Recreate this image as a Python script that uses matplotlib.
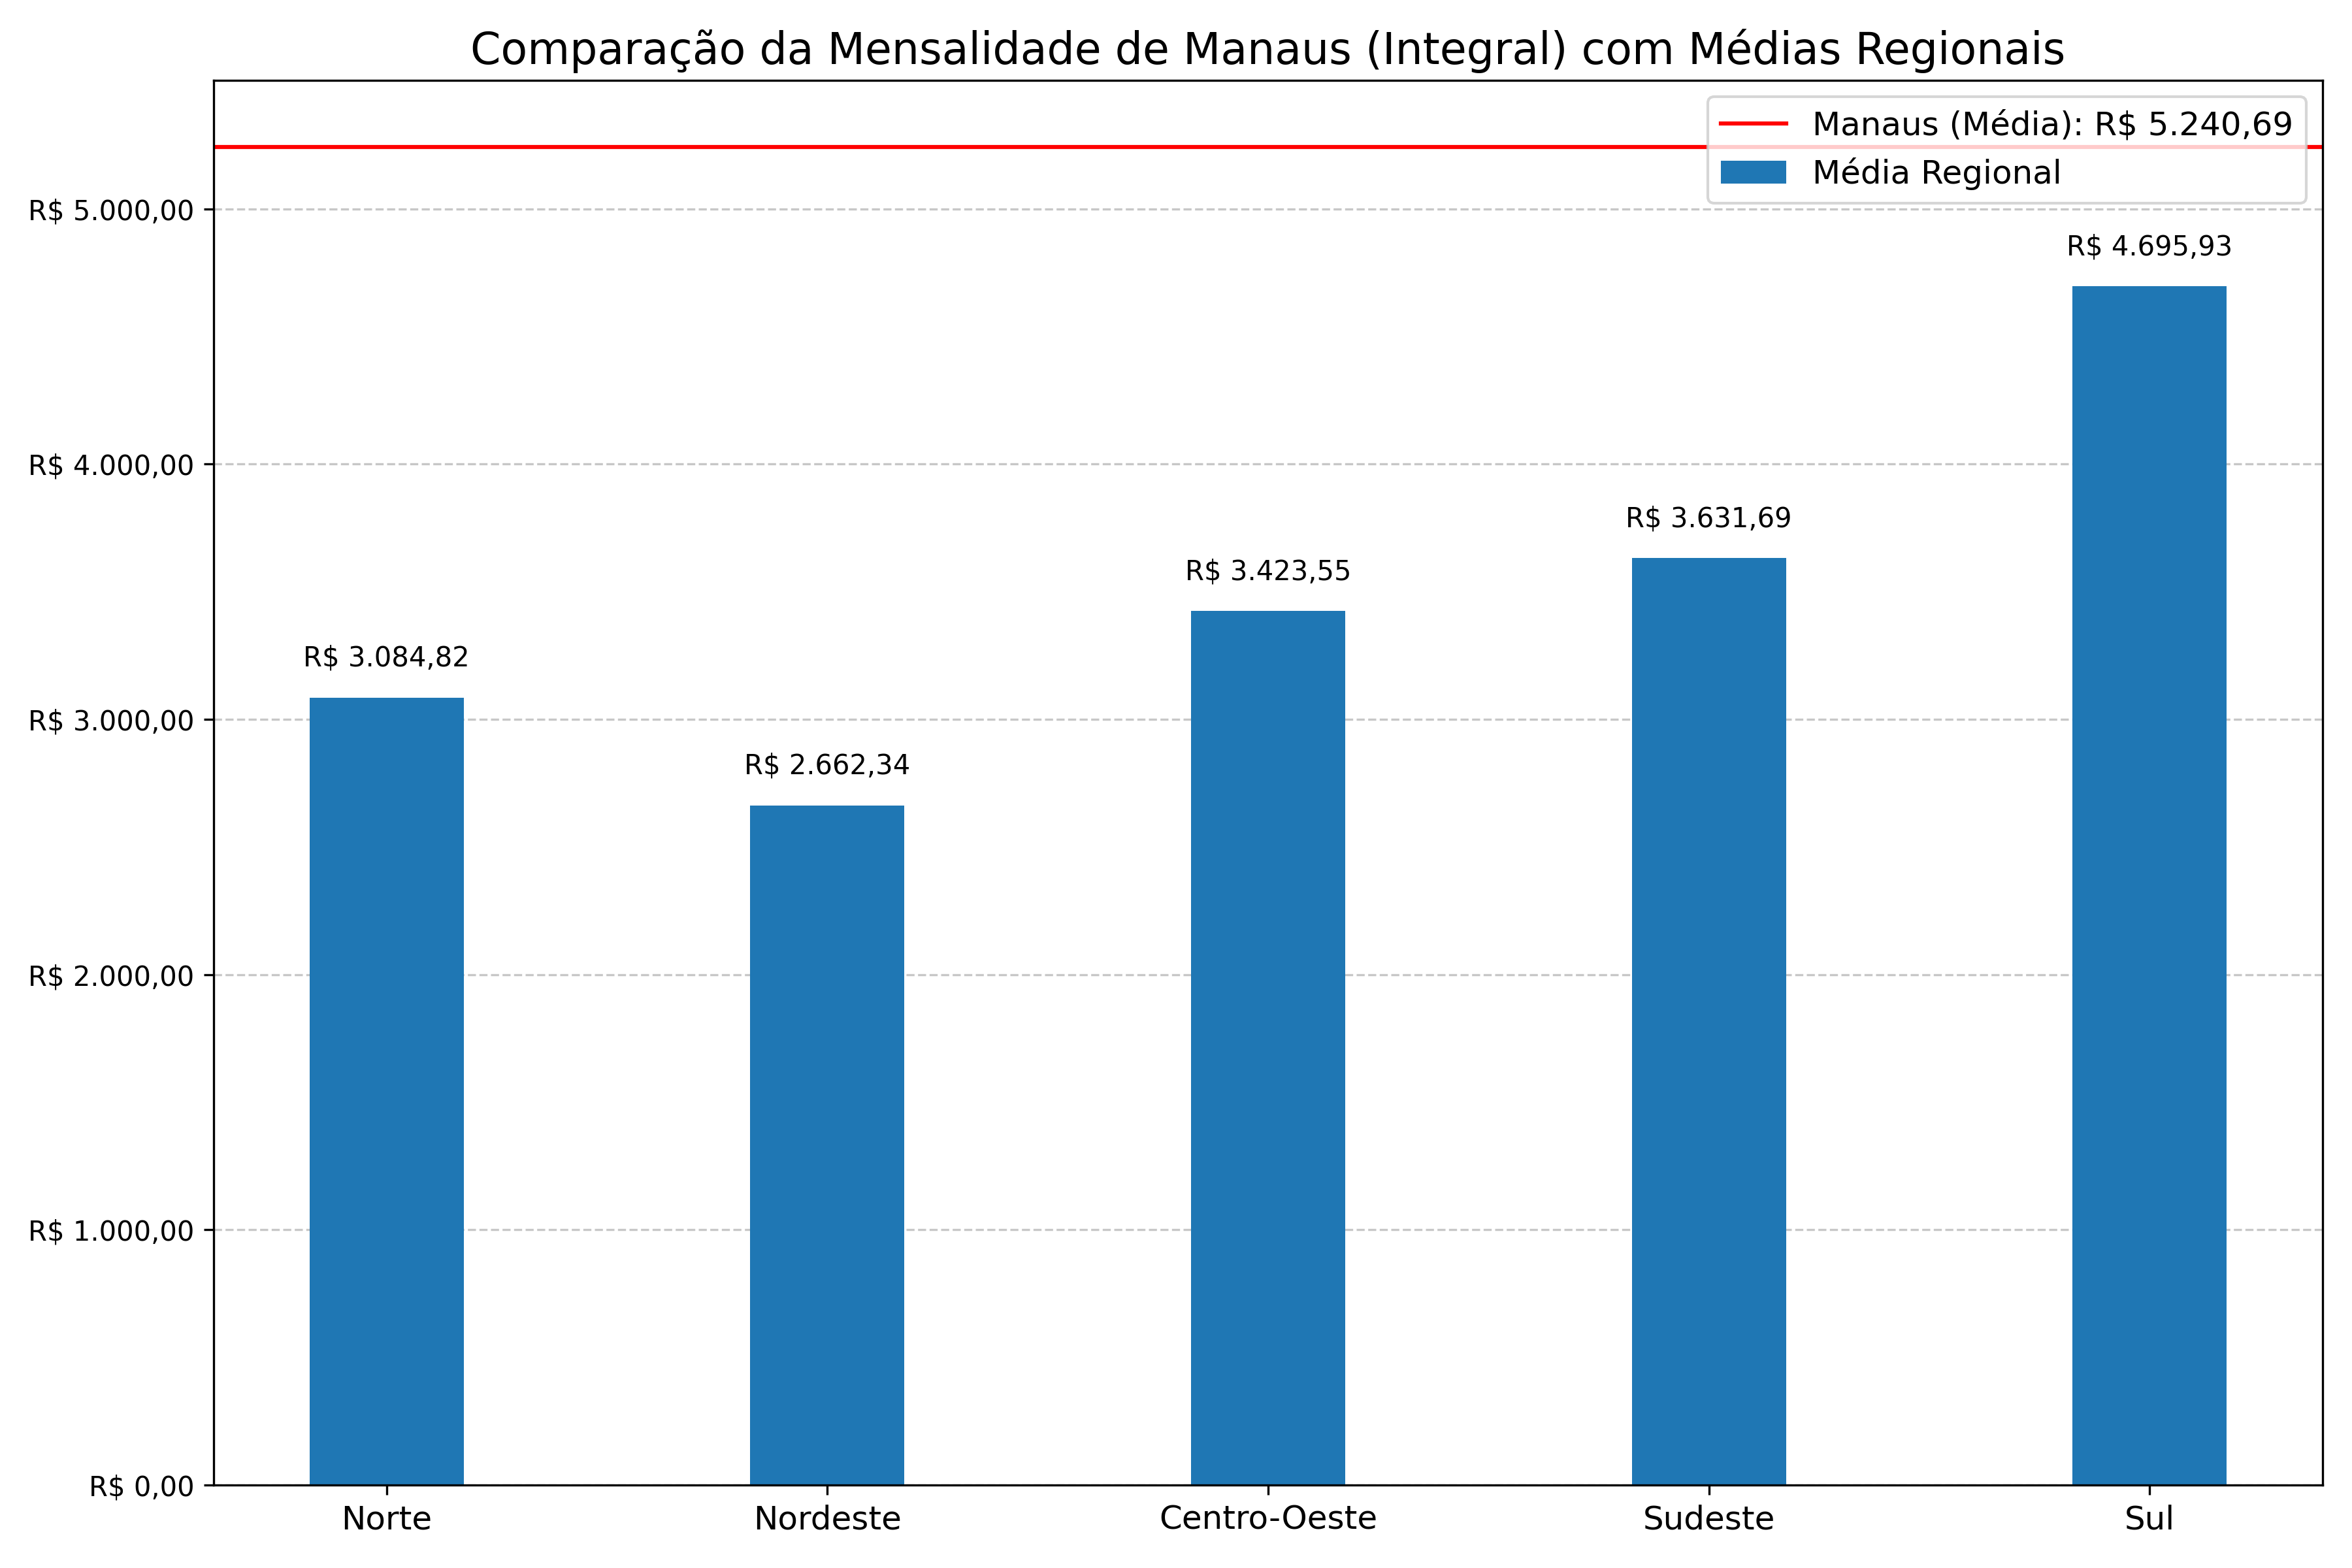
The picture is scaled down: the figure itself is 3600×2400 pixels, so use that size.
import matplotlib
matplotlib.use("Agg")
import matplotlib.pyplot as plt
from matplotlib.ticker import FuncFormatter

regioes = ["Norte", "Nordeste", "Centro-Oeste", "Sudeste", "Sul"]
medias = [3084.82, 2662.34, 3423.55, 3631.69, 4695.93]
manaus_media = 5240.69


def brl(v):
    s = f"{v:,.2f}"
    s = s.replace(",", "X").replace(".", ",").replace("X", ".")
    return f"R$ {s}"


fig, ax = plt.subplots(figsize=(12, 8), dpi=300)
bars = ax.bar(regioes, medias, width=0.35, color="#1f77b4", label="Média Regional")
ax.axhline(manaus_media, color="red", linewidth=1.5, label=f"Manaus (Média): {brl(manaus_media)}")

for b, v in zip(bars, medias):
    ax.text(b.get_x() + b.get_width() / 2, v + 100, brl(v), ha="center", va="bottom", fontsize=10)

ax.set_ylim(0, manaus_media * 1.05)
ax.yaxis.set_major_formatter(FuncFormatter(lambda v, p: brl(v)))
ax.tick_params(axis="x", labelsize=12)
ax.tick_params(axis="y", labelsize=10)
ax.grid(axis="y", linestyle="--", alpha=0.7)
ax.set_axisbelow(True)
ax.set_title("Comparação da Mensalidade de Manaus (Integral) com Médias Regionais", fontsize=16)
ax.legend(loc="upper right", fontsize=12)
fig.subplots_adjust(left=0.0908, right=0.9875, bottom=0.0529, top=0.9487)
fig.savefig("out.png", dpi=300)
